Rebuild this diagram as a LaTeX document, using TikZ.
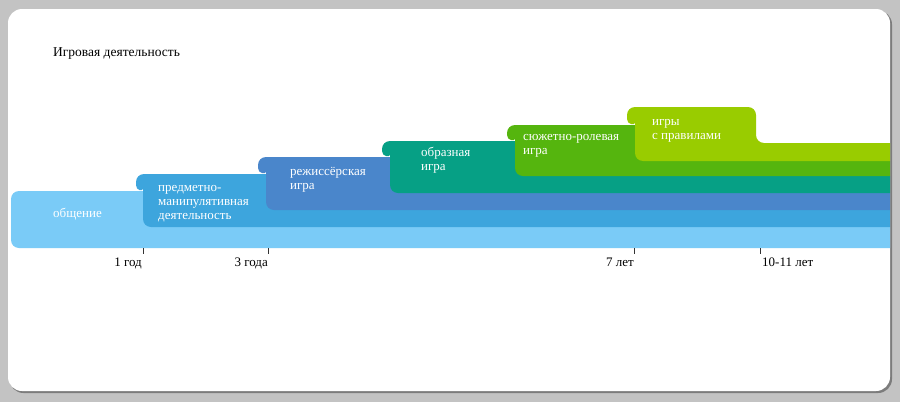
\documentclass[tikz,border=0pt]{standalone}
\usepackage{fontspec}
\setmainfont{Liberation Serif}
\definecolor{bgGrey}{HTML}{C3C3C3}
\definecolor{shadowGrey}{HTML}{7C7C7C}
\definecolor{cA}{HTML}{7ACBF7}
\definecolor{cB}{HTML}{3DA5DD}
\definecolor{cC}{HTML}{4A86CB}
\definecolor{cD}{HTML}{06A085}
\definecolor{cE}{HTML}{55B50E}
\definecolor{cF}{HTML}{99CC00}
\tikzset{
  lbl/.style={text=white, align=left, anchor=base west, inner sep=0pt, font=\fontsize{13}{13.8}\selectfont},
  ticklbl/.style={inner sep=0pt, font=\fontsize{13}{14}\selectfont},
  tickmark/.style={draw=black!80, line width=0.8pt},
  bandfill/.style={fill=#1, rounded corners=8pt}
}
\begin{document}
\begin{tikzpicture}[x=1pt,y=-1pt]
\useasboundingbox (0,0) rectangle (900,402);
\fill[bgGrey] (0,0) rectangle (900,402);
\fill[shadowGrey, rounded corners=14pt] (9.5,10.5) rectangle (892,393);
\fill[white, rounded corners=14pt] (8,9) rectangle (890,391);

\begin{scope}
\clip (0,0) rectangle (890,402);
% band 1
\path[bandfill=cA] (40,248) -- (11,248) -- (11,191) -- (180,191) -- (180,227) -- (905,227) -- (905,248) -- cycle;
% band 2
\path[bandfill=cB] (170,227) -- (143,227) -- (143,197)
  [sharp corners] .. controls (143,191) and (136,191) .. (136,185)
  [rounded corners=8pt] -- (136,174) -- (300,174) -- (300,210) -- (905,210) -- (905,227) -- cycle;
% band 3
\path[bandfill=cC] (290,210) -- (266,210) -- (266,180)
  [sharp corners] .. controls (266,174) and (258,174) .. (258,168)
  [rounded corners=8pt] -- (258,157) -- (420,157) -- (420,193) -- (905,193) -- (905,210) -- cycle;
% band 4
\path[bandfill=cD] (410,193) -- (390,193) -- (390,163)
  [sharp corners] .. controls (390,157) and (382,157) .. (382,151)
  [rounded corners=8pt] -- (382,141) -- (545,141) -- (545,176) -- (905,176) -- (905,193) -- cycle;
% band 5
\path[bandfill=cE] (540,176) -- (515,176) -- (515,147)
  [sharp corners] .. controls (515,141) and (507,141) .. (507,135)
  [rounded corners=8pt] -- (507,125) -- (665,125) -- (665,161) -- (905,161) -- (905,176) -- cycle;
% band 6
\path[bandfill=cF] (660,161) -- (635,161) -- (635,131)
  [sharp corners] .. controls (635,125) and (627,125) .. (627,119)
  [rounded corners=8pt] -- (627,107) -- (756,107) -- (756,143) -- (905,143) -- (905,161) -- cycle;
\end{scope}

\node[inner sep=0pt, anchor=base west, font=\fontsize{13.5}{14}\selectfont] (title) at (53,56) {Игровая деятельность};

\node[lbl] (l1) at (53,217) {общение};
\node[lbl] (l2) at (158,219.3) {предметно-\\манипулятивная\\деятельность};
\node[lbl] (l3) at (290,189.5) {режиссёрская\\игра};
\node[lbl] (l4) at (421,170.5) {образная\\игра};
\node[lbl] (l5) at (523,154.5) {сюжетно-ролевая\\игра};
\node[lbl] (l6) at (652,139) {игры\\с правилами};

\coordinate (t1) at (143,248);
\coordinate (t2) at (268,248);
\coordinate (t3) at (634,248);
\coordinate (t4) at (760,248);
\foreach \t in {t1,t2,t3,t4}{
  \draw[tickmark] (\t) -- ++(0,6);
}
\node[ticklbl, anchor=base east] (k1) at (142,266) {1 год};
\node[ticklbl, anchor=base east] (k2) at (268,266) {3 года};
\node[ticklbl, anchor=base east] (k3) at (634,266) {7 лет};
\node[ticklbl, anchor=base west] (k4) at (762,266) {10-11 лет};
\end{tikzpicture}
\end{document}
